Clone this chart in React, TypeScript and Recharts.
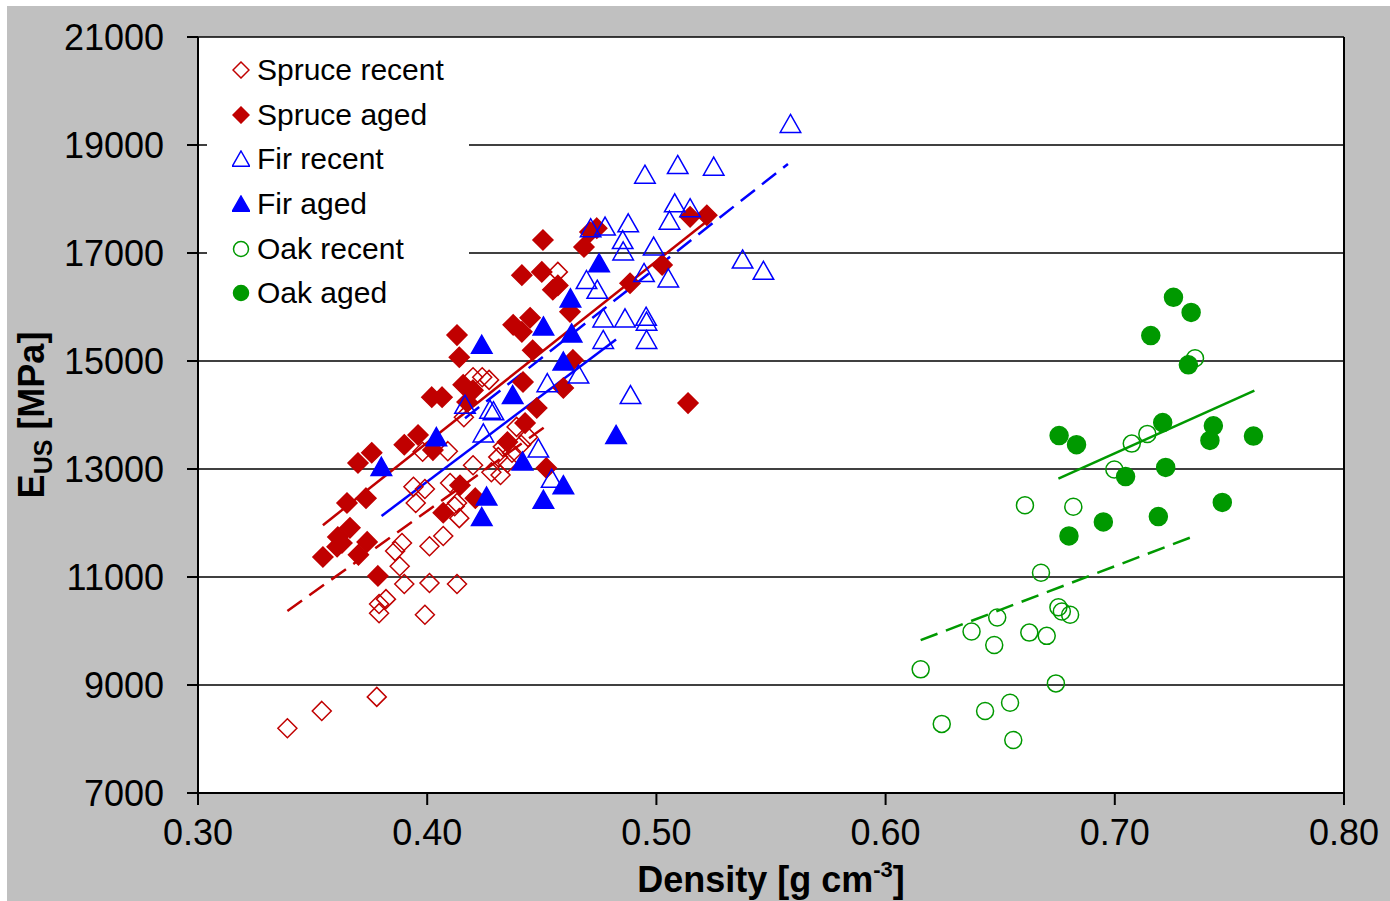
import {
  CartesianGrid,
  Label,
  Legend,
  ReferenceLine,
  Scatter,
  ScatterChart,
  XAxis,
  YAxis,
} from "recharts";

const RED = "#C00000";
const BLUE = "#0000FF";
const GREEN = "#009900";

const xTicks = [0.3, 0.4, 0.5, 0.6, 0.7, 0.8];
const yTicks = [7000, 9000, 11000, 13000, 15000, 17000, 19000, 21000];

// [density g/cm3, E_US MPa]
const spruceRecent = [
  [0.339, 8200], [0.354, 8520], [0.378, 8780], [0.379, 10330], [0.379, 10500],
  [0.382, 10590], [0.399, 10300], [0.39, 10870], [0.401, 10890], [0.413, 10870],
  [0.388, 11200], [0.386, 11480], [0.389, 11630], [0.401, 11570], [0.407, 11760],
  [0.414, 12090], [0.412, 12310], [0.395, 12370], [0.394, 12670], [0.399, 12630],
  [0.41, 12740], [0.409, 13330], [0.398, 13320], [0.42, 14700], [0.424, 14700],
  [0.427, 14650], [0.416, 13960], [0.433, 13410], [0.431, 13220], [0.435, 13110],
  [0.439, 13780], [0.444, 13590], [0.42, 13070], [0.428, 12940], [0.432, 12890],
  [0.413, 12370], [0.457, 16650], [0.437, 13300], [0.441, 13450],
];

const spruceAged = [
  [0.3545, 11370], [0.3607, 11560], [0.3628, 11630], [0.3663, 11910], [0.361, 11740],
  [0.37, 11410], [0.3738, 11650], [0.3785, 11020], [0.365, 12370], [0.3733, 12460],
  [0.3698, 13110], [0.3758, 13300], [0.39, 13450], [0.396, 13630], [0.4025, 13350],
  [0.4143, 12700], [0.407, 12190], [0.421, 12460], [0.413, 15480], [0.414, 15070],
  [0.402, 14330], [0.4065, 14330], [0.4157, 14560], [0.42, 14460], [0.4174, 14240],
  [0.4375, 15670], [0.4413, 15540], [0.4449, 15800], [0.446, 15200], [0.4418, 14610],
  [0.4478, 14130], [0.4427, 13850], [0.435, 13500], [0.452, 13020], [0.4594, 14500],
  [0.4623, 15910], [0.4505, 17240], [0.4684, 17110], [0.471, 17390], [0.4413, 16590],
  [0.45, 16650], [0.4548, 16320], [0.457, 16400], [0.474, 17460], [0.4885, 16440],
  [0.5025, 16780], [0.5147, 17670], [0.522, 17700], [0.5138, 14220], [0.4636, 15020],
];

const firRecent = [
  [0.5585, 19390], [0.495, 18450], [0.5093, 18630], [0.525, 18600], [0.508, 17920],
  [0.5147, 17830], [0.5057, 17600], [0.4713, 17460], [0.4776, 17490], [0.4877, 17550],
  [0.4853, 17240], [0.4855, 17030], [0.4988, 17120], [0.4695, 16500], [0.4742, 16320],
  [0.4946, 16630], [0.5052, 16530], [0.5376, 16880], [0.5467, 16670], [0.4768, 15790],
  [0.4863, 15790], [0.4955, 15820], [0.4957, 15730], [0.4768, 15390], [0.4957, 15390],
  [0.4887, 14370], [0.466, 14750], [0.4524, 14590], [0.4165, 14190], [0.4274, 14100],
  [0.4289, 14070], [0.4245, 13660], [0.4485, 13380], [0.4543, 12820],
];

const firAged = [
  [0.38, 13040], [0.404, 13590], [0.4238, 15300], [0.4373, 14370], [0.4416, 13140],
  [0.4259, 12490], [0.4238, 12110], [0.4507, 15640], [0.463, 15510], [0.4594, 14990],
  [0.4594, 12700], [0.4507, 12430], [0.4625, 16160], [0.475, 16810], [0.4824, 13630],
];

const oakRecent = [
  [0.735, 15050], [0.7074, 13470], [0.7142, 13650], [0.6998, 12990], [0.6608, 12330],
  [0.6819, 12300], [0.6678, 11080], [0.6754, 10440], [0.6769, 10360], [0.6805, 10300],
  [0.6487, 10250], [0.6375, 9990], [0.6627, 9970], [0.6703, 9910], [0.6474, 9740],
  [0.6153, 9290], [0.6743, 9030], [0.6543, 8670], [0.6434, 8520], [0.6245, 8280],
  [0.6557, 7980],
];

const oakAged = [
  [0.7256, 16180], [0.7333, 15900], [0.7157, 15470], [0.7321, 14930], [0.7209, 13860],
  [0.743, 13800], [0.7415, 13530], [0.7605, 13610], [0.6757, 13620], [0.6833, 13450],
  [0.7222, 13030], [0.7047, 12860], [0.7469, 12380], [0.719, 12120], [0.695, 12020],
  [0.68, 11760],
];

// linear fits, start and end points
const spruceRecentFit = [[0.339, 10370], [0.4527, 13820]];
const spruceAgedFit = [[0.3545, 11960], [0.5215, 17570]];
const firRecentFit = [[0.4165, 13940], [0.5574, 18650]];
const firAgedFit = [[0.3801, 12130], [0.4824, 15400]];
const oakRecentFit = [[0.6153, 9830], [0.7335, 11740]];
const oakAgedFit = [[0.6754, 12820], [0.7609, 14450]];

const toPoints = (rows: number[][]) => rows.map(([x, y]) => ({ x, y }));

type Kind = "diamond" | "triangle" | "circle";

const marker = (kind: Kind, color: string, filled: boolean, s: number) => {
  return (props: any) => {
    const { cx, cy } = props;
    const fill = filled ? color : "none";
    if (kind === "circle") {
      return <circle cx={cx} cy={cy} r={s} fill={fill} stroke={color} strokeWidth={1.5} />;
    }
    const d =
      kind === "diamond"
        ? `M${cx},${cy - s}L${cx + s},${cy}L${cx},${cy + s}L${cx - s},${cy}Z`
        : `M${cx},${cy - s}L${cx + s * 1.08},${cy + s * 0.9}L${cx - s * 1.08},${cy + s * 0.9}Z`;
    return <path d={d} fill={fill} stroke={color} strokeWidth={1.5} />;
  };
};

const legendItems: { name: string; kind: Kind; color: string; filled: boolean }[] = [
  { name: "Spruce recent", kind: "diamond", color: RED, filled: false },
  { name: "Spruce aged", kind: "diamond", color: RED, filled: true },
  { name: "Fir recent", kind: "triangle", color: BLUE, filled: false },
  { name: "Fir aged", kind: "triangle", color: BLUE, filled: true },
  { name: "Oak recent", kind: "circle", color: GREEN, filled: false },
  { name: "Oak aged", kind: "circle", color: GREEN, filled: true },
];

const renderLegend = () => (
  <div>
    {legendItems.map((item) => (
      <div
        key={item.name}
        style={{ display: "flex", alignItems: "center", height: 44.6, fontSize: 30, color: "#000" }}
      >
        <svg width={18} height={18} style={{ marginLeft: 25, marginRight: 7 }}>
          {marker(item.kind, item.color, item.filled, item.kind === "circle" ? 7.5 : 8)({ cx: 9, cy: 9 })}
        </svg>
        <span>{item.name}</span>
      </div>
    ))}
  </div>
);

const fitLine = (pts: number[][], color: string, dashed: boolean) => (
  <ReferenceLine
    segment={[
      { x: pts[0][0], y: pts[0][1] },
      { x: pts[1][0], y: pts[1][1] },
    ]}
    stroke={color}
    strokeWidth={2.5}
    strokeDasharray={dashed ? "18 9" : undefined}
  />
);

const tickStyle = { fontSize: 36, fill: "#000" };

export default function App() {
  return (
    <div
      style={{
        position: "absolute",
        left: 0,
        top: 0,
        width: 1390,
        height: 901,
        background: "#fff",
        fontFamily: '"Liberation Sans", Arial, sans-serif',
      }}
    >
      <div style={{ position: "absolute", left: 7, top: 6, width: 1383, height: 895, background: "#c0c0c0" }} />
      <div style={{ position: "absolute", left: 0, top: 0 }}>
        <ScatterChart width={1390} height={901} margin={{ top: 37, right: 46, left: 98, bottom: 48 }}>
          <CartesianGrid vertical={false} stroke="#000" strokeWidth={1.5} fill="#fff" fillOpacity={1} />
          <XAxis
            type="number"
            dataKey="x"
            domain={[0.3, 0.8]}
            ticks={xTicks}
            tickFormatter={(v: number) => v.toFixed(2)}
            tick={tickStyle}
            tickSize={12}
            tickMargin={14}
            height={60}
            stroke="#000"
            strokeWidth={2}
            allowDataOverflow
          >
            <Label
              content={() => (
                <text x={771} y={892} textAnchor="middle" fontSize={36} fontWeight="bold" fill="#000">
                  Density [g cm
                  <tspan fontSize={22} dy={-15}>-3</tspan>
                  <tspan fontSize={36} dy={15}>]</tspan>
                </text>
              )}
            />
          </XAxis>
          <YAxis
            type="number"
            dataKey="y"
            domain={[7000, 21000]}
            ticks={yTicks}
            tick={tickStyle}
            tickSize={11}
            tickMargin={23}
            width={100}
            stroke="#000"
            strokeWidth={2}
            allowDataOverflow
          >
            <Label
              content={() => (
                <text
                  transform="translate(44,415) rotate(-90)"
                  textAnchor="middle"
                  fontSize={36}
                  fontWeight="bold"
                  fill="#000"
                >
                  E
                  <tspan fontSize={25} dy={8}>US</tspan>
                  <tspan fontSize={36} dy={-8}> [MPa]</tspan>
                </text>
              )}
            />
          </YAxis>
          <ReferenceLine x={0.8} stroke="#000" strokeWidth={2} />
          <Legend
            layout="vertical"
            align="center"
            verticalAlign="middle"
            content={renderLegend}
            wrapperStyle={{ left: 207, top: 48, width: 262, height: 268, background: "#fff" }}
          />
          <Scatter name="Spruce recent" data={toPoints(spruceRecent)} shape={marker("diamond", RED, false, 9.5)} isAnimationActive={false} />
          <Scatter name="Spruce aged" data={toPoints(spruceAged)} shape={marker("diamond", RED, true, 10)} isAnimationActive={false} />
          <Scatter name="Fir recent" data={toPoints(firRecent)} shape={marker("triangle", BLUE, false, 9.5)} isAnimationActive={false} />
          <Scatter name="Fir aged" data={toPoints(firAged)} shape={marker("triangle", BLUE, true, 9.5)} isAnimationActive={false} />
          <Scatter name="Oak recent" data={toPoints(oakRecent)} shape={marker("circle", GREEN, false, 8.5)} isAnimationActive={false} />
          <Scatter name="Oak aged" data={toPoints(oakAged)} shape={marker("circle", GREEN, true, 9)} isAnimationActive={false} />
          {fitLine(spruceRecentFit, RED, true)}
          {fitLine(spruceAgedFit, RED, false)}
          {fitLine(firRecentFit, BLUE, true)}
          {fitLine(firAgedFit, BLUE, false)}
          {fitLine(oakRecentFit, GREEN, true)}
          {fitLine(oakAgedFit, GREEN, false)}
        </ScatterChart>
      </div>
    </div>
  );
}
